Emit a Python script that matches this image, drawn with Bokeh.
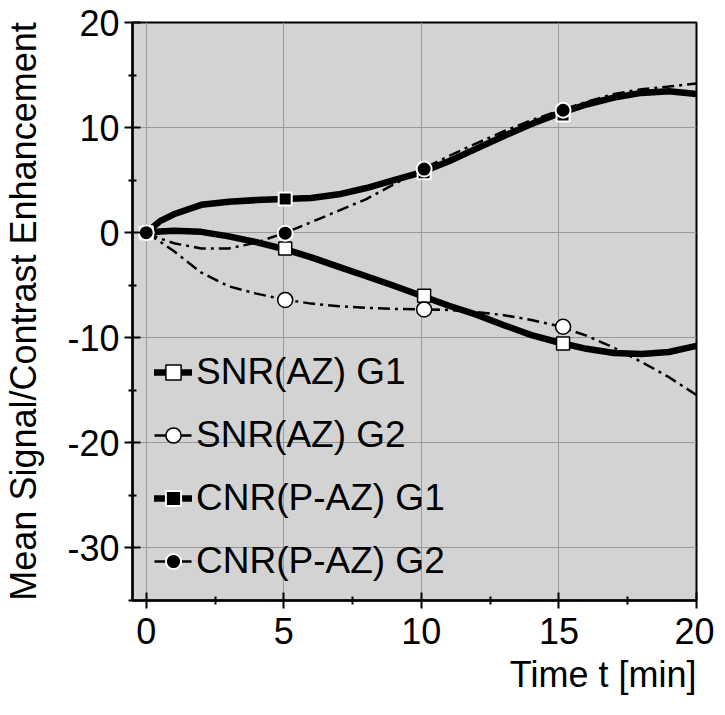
from bokeh.plotting import figure
from bokeh.models import Range1d, FixedTicker, Legend, LegendItem, Title
from bokeh.embed import file_html
from bokeh.resources import INLINE

# ---- data ----
marker_t = [0, 5.05, 10.1, 15.15]
snr_g1_pts = [0, -1.5, -6.0, -10.55]
snr_g2_pts = [0, -6.4, -7.3, -8.95]
cnr_g1_pts = [0, 3.2, 5.7, 11.2]
cnr_g2_pts = [0, -0.05, 6.05, 11.65]

curve_t = [0, 0.5, 1, 2, 3, 4, 5, 6, 7, 8, 9, 10, 11, 12, 13, 14, 15, 16, 17, 18, 19, 20]
snr_g1_curve = [0, 0.12, 0.18, 0.08, -0.35, -0.9, -1.55, -2.35, -3.25, -4.15, -5.05,
                -6.0, -6.95, -7.8, -8.8, -9.75, -10.45, -11.05, -11.45, -11.55, -11.35, -10.77]
snr_g2_curve = [0, -0.85, -1.75, -3.8, -5.1, -5.8, -6.35, -6.75, -7.0, -7.15, -7.25,
                -7.3, -7.35, -7.55, -7.85, -8.3, -8.9, -9.8, -10.95, -12.3, -13.75, -15.45]
cnr_g1_curve = [0, 1.1, 1.75, 2.65, 2.95, 3.1, 3.2, 3.3, 3.65, 4.25, 5.0,
                5.75, 6.8, 8.0, 9.2, 10.35, 11.35, 12.2, 12.85, 13.3, 13.45, 13.2]
cnr_g2_curve = [0, -0.55, -1.0, -1.5, -1.5, -0.95, -0.05, 1.0, 2.1, 3.2, 4.6,
                6.0, 7.3, 8.5, 9.65, 10.7, 11.6, 12.45, 13.2, 13.65, 13.9, 14.2]

series_names = ["SNR(AZ) G1", "SNR(AZ) G2", "CNR(P-AZ) G1", "CNR(P-AZ) G2"]
x_ticks = [0, 5, 10, 15, 20]
x_minor = [2.5, 7.5, 12.5, 17.5]
y_ticks = [-30, -20, -10, 0, 10, 20]
y_minor = [-35, -25, -15, -5, 5, 15]
x_tick_labels = ["0", "5", "10", "15", "20"]
y_tick_labels = ["-30", "-20", "-10", "0", "10", "20"]
x_title = "Time t [min]"
y_title = "Mean Signal/Contrast Enhancement"

FONT = "Liberation Sans"

p = figure(width=714, height=710, output_backend="svg", toolbar_location=None,
           x_range=Range1d(-0.5, 20), y_range=Range1d(-35, 20),
           min_border_left=131, min_border_right=18, min_border_top=22,
           min_border_bottom=110,
           background_fill_color="#d3d3d3", border_fill_color="white",
           outline_line_color="black", outline_line_width=2)

for ax, ticks, minor, labels, standoff in ((p.xaxis, x_ticks, x_minor, x_tick_labels, 9),
                                           (p.yaxis, y_ticks, y_minor, y_tick_labels, 5)):
    ax.ticker = FixedTicker(ticks=ticks, minor_ticks=minor)
    ax.major_label_overrides = {t: s for t, s in zip(ticks, labels)}
    ax.major_tick_in = 8
    ax.major_tick_out = 8
    ax.minor_tick_in = 4
    ax.minor_tick_out = 4
    ax.major_tick_line_width = 2
    ax.minor_tick_line_width = 2
    ax.axis_line_width = 2.5
    ax.major_tick_line_color = "black"
    ax.minor_tick_line_color = "black"
    ax.axis_line_color = "black"
    ax.major_label_text_font = FONT
    ax.major_label_text_font_size = "36px"
    ax.major_label_text_color = "black"
    ax.major_label_standoff = standoff
    ax.axis_label_text_font = FONT
    ax.axis_label_text_font_size = "36px"
    ax.axis_label_text_font_style = "normal"
    ax.axis_label_text_color = "black"

p.yaxis.axis_label = y_title
p.yaxis.axis_label_standoff = 20

p.add_layout(Title(text=x_title, align="right", vertical_align="bottom",
                   text_line_height=1.25, text_font=FONT, text_font_size="36px",
                   text_font_style="normal", text_color="black"), "below")

p.xgrid.ticker = FixedTicker(ticks=x_ticks)
p.ygrid.ticker = FixedTicker(ticks=y_ticks)
for g in (p.xgrid, p.ygrid):
    g.grid_line_color = "#999999"
    g.grid_line_width = 1

DASH = "12 5 3 5"
l1 = p.line(curve_t, snr_g1_curve, line_color="black", line_width=6.5, line_cap="round", line_join="round")
l2 = p.line(curve_t, snr_g2_curve, line_color="black", line_width=2.5, line_dash=DASH)
l3 = p.line(curve_t, cnr_g1_curve, line_color="black", line_width=6.5, line_cap="round", line_join="round")
l4 = p.line(curve_t, cnr_g2_curve, line_color="black", line_width=2.5, line_dash=DASH)

m1 = p.scatter(marker_t, snr_g1_pts, marker="square", size=13, fill_color="white", line_color="black", line_width=1.5)
m2 = p.scatter(marker_t, snr_g2_pts, marker="circle", size=15, fill_color="white", line_color="black", line_width=1.5)
m3 = p.scatter(marker_t, cnr_g1_pts, marker="square", size=13, fill_color="black", line_color="white", line_width=2)
m4 = p.scatter(marker_t, cnr_g2_pts, marker="circle", size=15, fill_color="black", line_color="white", line_width=2)

items = [LegendItem(label=series_names[0], renderers=[l1, m1]),
         LegendItem(label=series_names[1], renderers=[l2, m2]),
         LegendItem(label=series_names[2], renderers=[l3, m3]),
         LegendItem(label=series_names[3], renderers=[l4, m4])]
legend = Legend(items=items, location=(22, 18), orientation="vertical",
                padding=0, margin=0, spacing=21, glyph_width=38, glyph_height=40,
                label_height=40, label_standoff=4, label_text_font=FONT,
                label_text_font_size="37px", label_text_color="black",
                background_fill_alpha=0, border_line_alpha=0)
p.add_layout(legend)

open("out.html", "w").write(file_html(p, INLINE))
